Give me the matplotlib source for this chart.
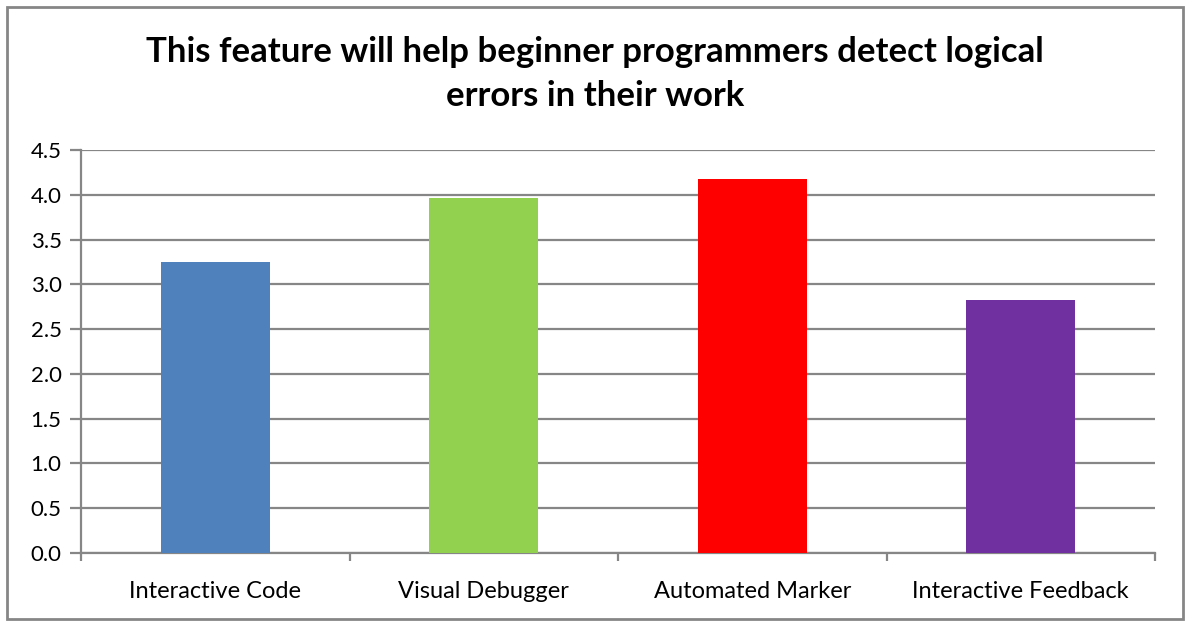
import matplotlib
matplotlib.use("Agg")
import numpy as np
from matplotlib import pyplot as plt
from matplotlib.patches import Rectangle

categories = ["Interactive Code", "Visual Debugger", "Automated Marker", "Interactive Feedback"]
scores = [3.25, 3.96, 4.18, 2.83]
bar_colors = ["#4F81BD", "#92D050", "#FF0000", "#7030A0"]
yticks = [0.0, 0.5, 1.0, 1.5, 2.0, 2.5, 3.0, 3.5, 4.0, 4.5]
title = "This feature will help beginner programmers detect logical\nerrors in their work"

plt.rcParams['font.family'] = ['Lato', 'DejaVu Sans']
grid_grey = "#868686"

W, H = 1195, 627
fig = plt.figure(figsize=(W / 100, H / 100), dpi=100)
ax = fig.add_axes([81 / W, 1 - 553 / H, (1155 - 81) / W, (553 - 150) / H])

x = np.arange(len(categories))
ax.bar(x, scores, width=0.405, color=bar_colors, zorder=3)

ax.set_xlim(-0.5, len(categories) - 0.5)
ax.set_ylim(0, 4.5)
ax.set_yticks(yticks)
ax.set_yticklabels([f"{v:.1f}" for v in yticks], fontsize=16)
ax.yaxis.grid(True, color=grid_grey, linewidth=1.6, zorder=0)

# category labels centred, ticks at category boundaries
ax.set_xticks(x)
ax.set_xticklabels(categories, fontsize=17)
ax.tick_params(axis='x', length=0, pad=20)
ax.set_xticks(np.arange(len(categories) + 1) - 0.5, minor=True)
ax.tick_params(axis='x', which='minor', length=6, width=1.6, color=grid_grey)
ax.tick_params(axis='y', length=8, width=1.6, color=grid_grey, pad=6)

for side in ["top", "right"]:
    ax.spines[side].set_visible(False)
for side in ["left", "bottom"]:
    ax.spines[side].set_color(grid_grey)
    ax.spines[side].set_linewidth(1.6)

fig.text(595 / W, 1 - 74 / H, title, ha="center", va="center",
         fontsize=25, fontweight="bold", linespacing=1.5)

# outer chart border
fig.patches.append(Rectangle((7 / W, 1 - 619 / H), (1183 - 7) / W, (619 - 7) / H,
                             transform=fig.transFigure, fill=False,
                             edgecolor=grid_grey, linewidth=2))

fig.savefig("out.png", dpi=100)
